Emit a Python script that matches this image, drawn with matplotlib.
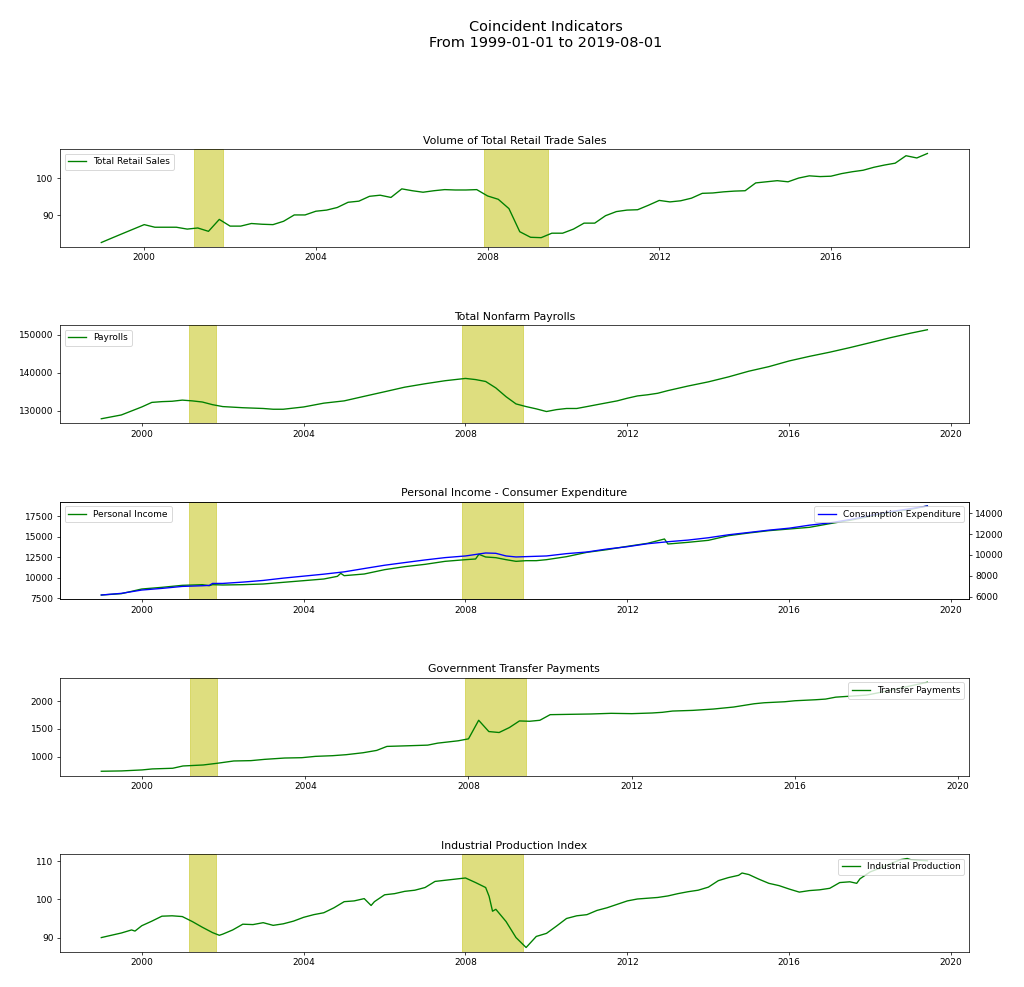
import pandas as pd
import matplotlib
matplotlib.use("Agg")
import matplotlib.pyplot as plt

# Recesiones (NBER)
recesiones = [("2001-03-01", "2001-11-01"), ("2007-12-01", "2009-06-01")]

# Ventas minoristas (trimestral, 1999Q1 - 2018Q2)
retail_fechas = pd.date_range("1999-01-01", periods=78, freq="QS")
retail = [82.7, 83.9, 85.1, 86.3, 87.5, 86.8, 86.8, 86.8, 86.3, 86.6, 85.7, 88.9,
          87.1, 87.1, 87.8, 87.6, 87.5, 88.4, 90.1, 90.1, 91.1, 91.4, 92.1, 93.5,
          93.8, 95.1, 95.4, 94.8, 97.1, 96.6, 96.2, 96.6, 96.9, 96.8, 96.8, 96.9,
          95.2, 94.3, 91.8, 85.6, 84.1, 84.0, 85.2, 85.2, 86.3, 87.9, 87.9, 89.9,
          91.0, 91.4, 91.5, 92.7, 94.0, 93.6, 93.9, 94.6, 95.9, 96.0, 96.3, 96.5,
          96.6, 98.7, 99.0, 99.3, 99.0, 100.0, 100.6, 100.4, 100.5, 101.2, 101.7, 102.1,
          102.9, 103.5, 104.0, 106.0, 105.4, 106.6]

# Empleo no agrícola (miles)
payroll_fechas = ["1999-01", "1999-07", "2000-01", "2000-04", "2000-07", "2000-10",
                  "2001-01", "2001-04", "2001-07", "2001-10", "2002-01", "2002-07",
                  "2003-01", "2003-04", "2003-07", "2004-01", "2004-07", "2005-01",
                  "2005-07", "2006-01", "2006-07", "2007-01", "2007-07", "2008-01",
                  "2008-04", "2008-07", "2008-10", "2009-01", "2009-04", "2009-07",
                  "2009-10", "2010-01", "2010-04", "2010-07", "2010-10", "2011-01",
                  "2011-04", "2011-07", "2011-10", "2012-01", "2012-04", "2012-07",
                  "2012-10", "2013-01", "2013-07", "2014-01", "2014-07", "2015-01",
                  "2015-07", "2016-01", "2016-07", "2017-01", "2017-07", "2018-01",
                  "2018-07", "2019-01", "2019-06"]
payrolls = [127900, 128900, 131000, 132200, 132400, 132500,
            132800, 132600, 132300, 131600, 131100, 130800,
            130600, 130400, 130400, 131000, 132000, 132600,
            133800, 135000, 136200, 137100, 137900, 138500,
            138200, 137700, 136000, 133700, 131800, 131100,
            130500, 129800, 130300, 130600, 130600, 131100,
            131600, 132100, 132600, 133300, 133900, 134200,
            134600, 135300, 136500, 137600, 138900, 140400,
            141600, 143100, 144300, 145400, 146600, 147900,
            149200, 150400, 151300]

# Ingreso personal
ingreso_fechas = ["1999-01", "1999-07", "2000-01", "2000-07", "2001-01", "2001-07",
                  "2001-09", "2001-10", "2002-01", "2002-07", "2003-01", "2003-07",
                  "2004-01", "2004-07", "2004-11", "2004-12", "2005-01", "2005-07",
                  "2006-01", "2006-07", "2007-01", "2007-07", "2008-01", "2008-04",
                  "2008-05", "2008-07", "2008-10", "2009-01", "2009-04", "2009-07",
                  "2009-10", "2010-01", "2010-07", "2011-01", "2011-07", "2012-01",
                  "2012-07", "2012-12", "2013-01", "2013-07", "2014-01", "2014-07",
                  "2015-01", "2015-07", "2016-01", "2016-07", "2017-01", "2017-07",
                  "2018-01", "2018-07", "2019-01", "2019-06"]
ingreso = [7906, 8069, 8638, 8841, 9085, 9167,
           9045, 9167, 9126, 9167, 9248, 9451,
           9654, 9858, 10183, 10549, 10264, 10467,
           10996, 11362, 11646, 12012, 12215, 12297,
           12866, 12541, 12459, 12215, 12012, 12093,
           12093, 12215, 12581, 13110, 13435, 13841,
           14207, 14736, 14126, 14329, 14573, 15142,
           15467, 15752, 15955, 16158, 16606, 17012,
           17500, 17988, 18354, 18760]

# Gasto de consumo
gasto_fechas = ["1999-01", "1999-07", "2000-01", "2000-07", "2001-01", "2001-07",
                "2001-09", "2001-10", "2002-01", "2002-07", "2003-01", "2003-07",
                "2004-01", "2004-07", "2005-01", "2005-07", "2006-01", "2006-07",
                "2007-01", "2007-07", "2008-01", "2008-07", "2008-10", "2009-01",
                "2009-04", "2009-07", "2010-01", "2010-07", "2011-01", "2011-07",
                "2012-01", "2012-07", "2013-01", "2013-07", "2014-01", "2014-07",
                "2015-01", "2015-07", "2016-01", "2016-07", "2017-01", "2017-07",
                "2018-01", "2018-07", "2019-01", "2019-06"]
gasto = [6159, 6318, 6635, 6794, 6984, 7048,
         7080, 7270, 7270, 7397, 7556, 7778,
         7969, 8159, 8381, 8699, 9016, 9270,
         9524, 9747, 9905, 10191, 10159, 9905,
         9810, 9842, 9905, 10128, 10286, 10572,
         10794, 11080, 11271, 11429, 11652, 11937,
         12160, 12382, 12572, 12858, 13080, 13398,
         13779, 14160, 14446, 14700]

# Transferencias del gobierno
transfer_fechas = ["1999-01", "1999-07", "2000-01", "2000-04", "2000-10", "2001-01",
                   "2001-07", "2001-11", "2002-04", "2002-09", "2003-01", "2003-07",
                   "2003-12", "2004-04", "2004-09", "2005-01", "2005-06", "2005-10",
                   "2006-01", "2006-07", "2007-01", "2007-04", "2007-10", "2008-01",
                   "2008-04", "2008-07", "2008-10", "2009-01", "2009-04", "2009-07",
                   "2009-10", "2010-01", "2010-07", "2011-01", "2011-07", "2012-01",
                   "2012-07", "2012-10", "2013-01", "2013-07", "2014-01", "2014-07",
                   "2015-01", "2015-04", "2015-10", "2016-01", "2016-07", "2016-10",
                   "2017-01", "2017-04", "2017-10", "2018-01", "2018-07", "2019-04"]
transfer = [738, 744, 762, 780, 792, 833,
            851, 881, 923, 929, 952, 976,
            982, 1006, 1018, 1036, 1071, 1113,
            1185, 1196, 1208, 1244, 1286, 1321,
            1655, 1452, 1435, 1524, 1643, 1637,
            1655, 1756, 1762, 1768, 1780, 1774,
            1786, 1798, 1821, 1833, 1857, 1893,
            1952, 1970, 1988, 2006, 2024, 2036,
            2071, 2083, 2107, 2143, 2220, 2339]

# Producción industrial
ip_fechas = ["1999-01", "1999-04", "1999-07", "1999-10", "1999-11", "2000-01",
             "2000-04", "2000-07", "2000-10", "2001-01", "2001-04", "2001-07",
             "2001-10", "2001-12", "2002-01", "2002-04", "2002-07", "2002-10",
             "2003-01", "2003-04", "2003-07", "2003-10", "2004-01", "2004-04",
             "2004-07", "2004-10", "2005-01", "2005-04", "2005-07", "2005-09",
             "2005-10", "2006-01", "2006-04", "2006-07", "2006-10", "2007-01",
             "2007-04", "2007-07", "2007-10", "2008-01", "2008-04", "2008-07",
             "2008-08", "2008-09", "2008-10", "2009-01", "2009-04", "2009-07",
             "2009-10", "2010-01", "2010-04", "2010-07", "2010-10", "2011-01",
             "2011-04", "2011-07", "2011-10", "2012-01", "2012-04", "2012-07",
             "2012-10", "2013-01", "2013-04", "2013-07", "2013-10", "2014-01",
             "2014-04", "2014-07", "2014-10", "2014-11", "2015-01", "2015-04",
             "2015-07", "2015-10", "2016-01", "2016-04", "2016-07", "2016-10",
             "2017-01", "2017-04", "2017-07", "2017-09", "2017-10", "2018-01",
             "2018-04", "2018-07", "2018-10", "2018-12", "2019-01", "2019-04",
             "2019-06"]
ip = [90.0, 90.6, 91.2, 92.0, 91.7, 93.1,
      94.3, 95.6, 95.7, 95.5, 94.2, 92.7,
      91.3, 90.6, 90.9, 92.0, 93.5, 93.4,
      93.9, 93.2, 93.6, 94.3, 95.3, 96.0,
      96.5, 97.8, 99.4, 99.6, 100.2, 98.4,
      99.4, 101.2, 101.5, 102.1, 102.4, 103.1,
      104.7, 105.0, 105.3, 105.6, 104.4, 103.1,
      100.8, 96.9, 97.4, 94.2, 90.0, 87.4,
      90.3, 91.1, 93.0, 95.0, 95.7, 96.0,
      97.1, 97.8, 98.7, 99.6, 100.1, 100.3,
      100.5, 100.9, 101.5, 102.0, 102.4, 103.2,
      104.9, 105.7, 106.3, 106.9, 106.5, 105.3,
      104.2, 103.6, 102.7, 101.9, 102.3, 102.5,
      102.9, 104.4, 104.6, 104.2, 105.4, 107.2,
      108.2, 109.3, 110.4, 110.7, 110.4, 110.2,
      110.1]


def sombrear(ax):
    for ini, fin in recesiones:
        ax.axvspan(pd.Timestamp(ini), pd.Timestamp(fin), color='y', alpha=0.5)


fig, axes = plt.subplots(5, 1, figsize=(1024 / 65, 987 / 65), dpi=65)
fig.subplots_adjust(left=0.0586, right=0.946, bottom=0.0355, top=0.849, hspace=0.8)
fig.suptitle("Coincident Indicators\nFrom 1999-01-01 to 2019-08-01", fontsize=16, x=0.533)

ax = axes[0]
ax.plot(retail_fechas, retail, color='g', label='Total Retail Sales')
sombrear(ax)
ax.set_title("Volume of Total Retail Trade Sales", fontsize=12)
ax.legend(loc='upper left')

ax = axes[1]
ax.plot(pd.to_datetime(payroll_fechas), payrolls, color='g', label='Payrolls')
sombrear(ax)
ax.set_title("Total Nonfarm Payrolls", fontsize=12)
ax.legend(loc='upper left')

ax = axes[2]
ax.plot(pd.to_datetime(ingreso_fechas), ingreso, color='g', label='Personal Income')
sombrear(ax)
ax.set_title("Personal Income - Consumer Expenditure", fontsize=12)
ax.legend(loc='upper left')
ax2 = ax.twinx()
ax2.plot(pd.to_datetime(gasto_fechas), gasto, color='b', label='Consumption Expenditure')
ax2.legend(loc='upper right')

ax = axes[3]
ax.plot(pd.to_datetime(transfer_fechas), transfer, color='g', label='Transfer Payments')
sombrear(ax)
ax.set_title("Government Transfer Payments", fontsize=12)
ax.legend(loc='upper right')

ax = axes[4]
ax.plot(pd.to_datetime(ip_fechas), ip, color='g', label='Industrial Production')
sombrear(ax)
ax.set_title("Industrial Production Index", fontsize=12)
ax.legend(loc='upper right')

fig.savefig("out.png", dpi=65)
